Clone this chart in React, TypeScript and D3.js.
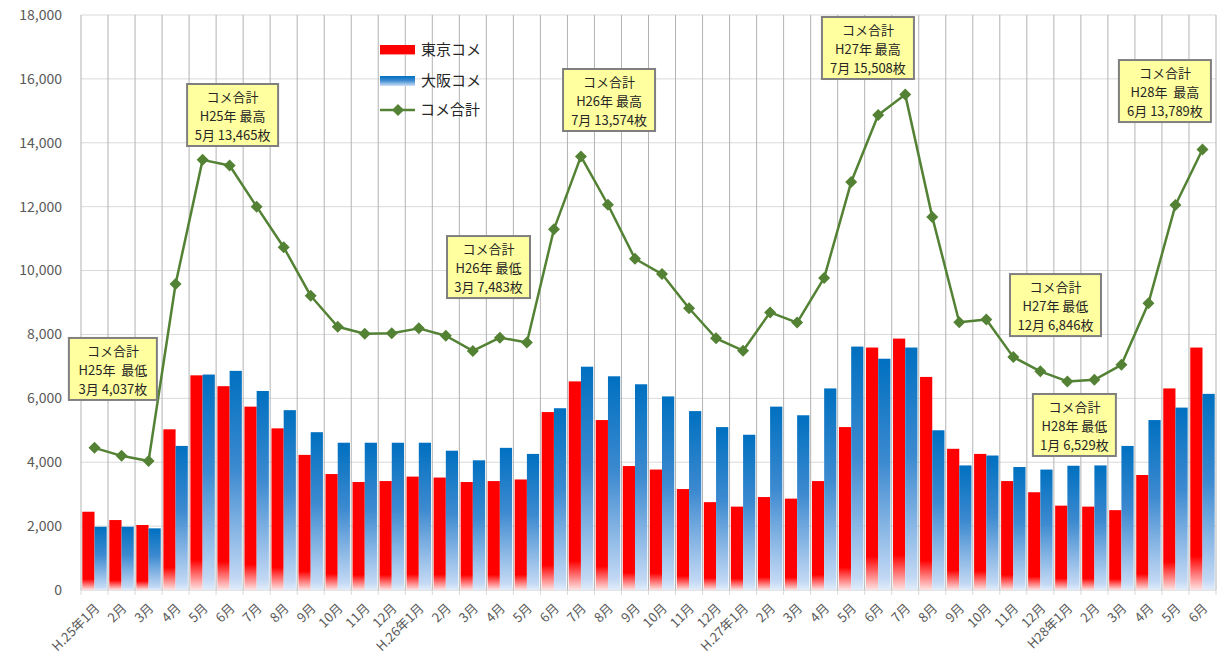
import React from 'react';
import * as d3 from 'd3';

// months H25.1 - H28.6
const months = [
  'H.25年1月', '2月', '3月', '4月', '5月', '6月', '7月', '8月', '9月', '10月', '11月', '12月',
  'H.26年1月', '2月', '3月', '4月', '5月', '6月', '7月', '8月', '9月', '10月', '11月', '12月',
  'H.27年1月', '2月', '3月', '4月', '5月', '6月', '7月', '8月', '9月', '10月', '11月', '12月',
  'H28年1月', '2月', '3月', '4月', '5月', '6月',
];

const tokyo = [
  2450, 2190, 2035, 5030, 6720, 6380, 5740, 5060, 4230, 3630, 3380, 3410,
  3550, 3520, 3380, 3410, 3460, 5570, 6530, 5320, 3880, 3770, 3160, 2750,
  2610, 2910, 2860, 3410, 5100, 7590, 7870, 6670, 4420, 4260, 3410, 3060,
  2640, 2610, 2500, 3600, 6310, 7590,
];

const osaka = [
  1980, 1980, 1930, 4510, 6745, 6860, 6230, 5630, 4940, 4610, 4610, 4610,
  4610, 4360, 4060, 4450, 4260, 5690, 6990, 6690, 6440, 6060, 5600, 5100,
  4860, 5740, 5470, 6310, 7620, 7240, 7590, 5000, 3900, 4210, 3850, 3770,
  3890, 3900, 4510, 5320, 5710, 6140,
];

const totals = [
  4450, 4200, 4037, 9580, 13465, 13290, 12000, 10730, 9210, 8240, 8020, 8040,
  8190, 7960, 7483, 7900, 7750, 11290, 13574, 12060, 10370, 9890, 8820, 7880,
  7490, 8690, 8370, 9770, 12770, 14870, 15508, 11680, 8380, 8470, 7290, 6846,
  6529, 6580, 7050, 8980, 12050, 13789,
];

const yTicks = [0, 2000, 4000, 6000, 8000, 10000, 12000, 14000, 16000, 18000];

const seriesNames = ['東京コメ', '大阪コメ', 'コメ合計'];

const calloutTexts = [
  ['コメ合計', 'H25年  最低', '3月 4,037枚'],
  ['コメ合計', 'H25年 最高', '5月 13,465枚'],
  ['コメ合計', 'H26年 最低', '3月 7,483枚'],
  ['コメ合計', 'H26年 最高', '7月 13,574枚'],
  ['コメ合計', 'H27年 最高', '7月 15,508枚'],
  ['コメ合計', 'H28年  最高', '6月 13,789枚'],
  ['コメ合計', 'H27年 最低', '12月 6,846枚'],
  ['コメ合計', 'H28年 最低', '1月 6,529枚'],
];

// callout placement: center in category units, top in value units, width px
const calloutLayout = [
  { c: 1.18, top: 7890, w: 88 },
  { c: 5.61, top: 15840, w: 91 },
  { c: 15.08, top: 11080, w: 83 },
  { c: 19.54, top: 16310, w: 92 },
  { c: 29.12, top: 17937, w: 92 },
  { c: 40.11, top: 16590, w: 92 },
  { c: 36.06, top: 9890, w: 91 },
  { c: 36.76, top: 6136, w: 83 },
];

const W = 1225;
const H = 671;
const margin = { top: 15, right: 9, bottom: 81, left: 81 };
const font = '"Noto Sans CJK JP", "Noto Sans", sans-serif';

const App: React.FC = () => {
  const idx = months.map((_, i) => i);
  const x = d3.scaleBand<number>()
    .domain(idx)
    .range([margin.left, W - margin.right])
    .paddingInner(0)
    .paddingOuter(0);
  const inner = d3.scaleBand<string>()
    .domain(['tokyo', 'osaka'])
    .range([0, x.bandwidth()])
    .paddingInner(0)
    .paddingOuter(0.107);
  const y = d3.scaleLinear().domain([0, 18000]).range([H - margin.bottom, margin.top]);
  const xc = (i: number) => (x(i) || 0) + x.bandwidth() / 2;
  const xFrac = d3.scaleLinear().domain([0, months.length]).range([margin.left, W - margin.right]);

  const line = d3.line<number>()
    .x((_, i) => xc(i))
    .y(d => y(d));
  const diamond = d3.symbol().type(d3.symbolSquare).size(72)();

  const bottom = y(0);
  const plotRight = W - margin.right;

  return (
    <svg width={W} height={H} style={{ position: 'absolute', left: 0, top: 0, background: '#fff' }} fontFamily={font}>
      <defs>
        <linearGradient id="gRed" x1="0" y1="0" x2="0" y2="1">
          <stop offset="0" stopColor="#ff0000" />
          <stop offset="0.86" stopColor="#ff0000" />
          <stop offset="1" stopColor="#ffe4e4" />
        </linearGradient>
        <linearGradient id="gBlue" x1="0" y1="0" x2="0" y2="1">
          <stop offset="0" stopColor="#0070c0" />
          <stop offset="0.45" stopColor="#3d8ad0" />
          <stop offset="0.95" stopColor="#c2d8f4" />
          <stop offset="1" stopColor="#e2edfa" />
        </linearGradient>
      </defs>

      {/* horizontal grid */}
      {yTicks.map(t => (
        <line key={'h' + t} x1={margin.left} x2={plotRight} y1={y(t)} y2={y(t)} stroke="#d9d9d9" strokeWidth={1} />
      ))}
      {/* vertical grid at category boundaries */}
      {[...idx, months.length].map(i => (
        <line key={'v' + i} x1={xFrac(i)} x2={xFrac(i)} y1={margin.top} y2={bottom} stroke="#b3b3b3" strokeWidth={1} />
      ))}
      {/* x ticks */}
      {[...idx, months.length].map(i => (
        <line key={'t' + i} x1={xFrac(i)} x2={xFrac(i)} y1={bottom} y2={bottom + 5} stroke="#d9d9d9" strokeWidth={1} />
      ))}
      <line x1={margin.left} x2={plotRight} y1={bottom} y2={bottom} stroke="#d9d9d9" strokeWidth={1} />

      {/* bars */}
      {tokyo.map((v, i) => (
        <rect key={'r' + i} x={(x(i) || 0) + (inner('tokyo') || 0)} y={y(v)} width={inner.bandwidth()} height={bottom - y(v)} fill="url(#gRed)" />
      ))}
      {osaka.map((v, i) => (
        <rect key={'b' + i} x={(x(i) || 0) + (inner('osaka') || 0)} y={y(v)} width={inner.bandwidth()} height={bottom - y(v)} fill="url(#gBlue)" />
      ))}

      {/* total line */}
      <path d={line(totals) || ''} fill="none" stroke="#548235" strokeWidth={2.5} strokeLinejoin="round" />
      {totals.map((v, i) => (
        <path key={'m' + i} d={diamond || ''} transform={`translate(${xc(i)},${y(v)}) rotate(45)`} fill="#548235" />
      ))}

      {/* y axis labels */}
      {yTicks.map(t => (
        <text key={'yl' + t} x={62} y={y(t)} dy="0.35em" textAnchor="end" fontSize={14} fill="#595959">
          {d3.format(',')(t)}
        </text>
      ))}

      {/* x axis labels */}
      {months.map((m, i) => (
        <text key={'xl' + i} transform={`translate(${xc(i) + 6},${bottom + 19}) rotate(-45)`} textAnchor="end" fontSize={13} fill="#595959">
          {m}
        </text>
      ))}

      {/* legend */}
      <g>
        <rect x={380} y={45} width={35} height={10} fill="url(#gRed)" />
        <text x={421} y={50} dy="0.35em" fontSize={15} fill="#262626">{seriesNames[0]}</text>
        <rect x={380} y={76} width={35} height={10} fill="url(#gBlue)" />
        <text x={421} y={81} dy="0.35em" fontSize={15} fill="#262626">{seriesNames[1]}</text>
        <line x1={380} x2={415} y1={110} y2={110} stroke="#548235" strokeWidth={2.5} />
        <path d={diamond || ''} transform="translate(398,110) rotate(45)" fill="#548235" />
        <text x={420} y={110} dy="0.35em" fontSize={15} fill="#262626">{seriesNames[2]}</text>
      </g>

      {/* callouts */}
      {calloutTexts.map((lines, k) => {
        const L = calloutLayout[k];
        const cx = xFrac(L.c);
        const top = y(L.top);
        const h = 62;
        return (
          <g key={'c' + k}>
            <rect x={cx - L.w / 2} y={top} width={L.w} height={h} fill="#ffff9f" stroke="#7f7f7f" strokeWidth={2} />
            {lines.map((s, j) => (
              <text key={j} x={cx} y={top + 13 + j * 19} dy="0.35em" textAnchor="middle" fontSize={13} fill="#262626" style={{ whiteSpace: 'pre' }}>
                {s}
              </text>
            ))}
          </g>
        );
      })}
    </svg>
  );
};

export default App;
